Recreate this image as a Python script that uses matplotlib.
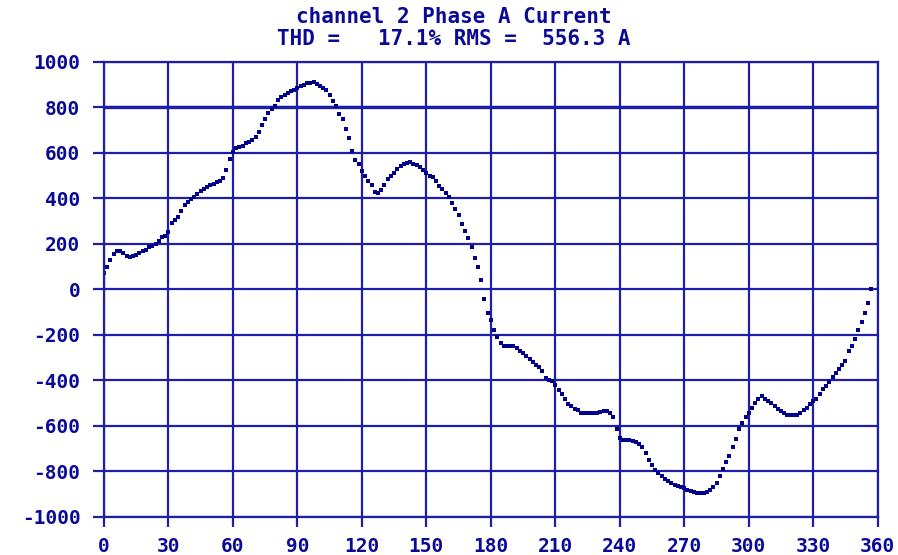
import numpy as np
import matplotlib
matplotlib.use("Agg")
import matplotlib.pyplot as plt

plt.rcParams["axes.unicode_minus"] = False

# waveform samples, one every 1.5 degrees starting at 0
current = [
    70, 100, 130, 155, 170, 170, 158, 148, 141, 146,
    153, 161, 169, 174, 184, 192, 200, 212, 228, 236,
    253, 290, 303, 318, 345, 370, 386, 398, 407, 417,
    432, 442, 450, 457, 464, 470, 476, 490, 525, 575,
    605, 620, 627, 632, 642, 649, 658, 670, 690, 724,
    747, 774, 792, 807, 831, 846, 854, 862, 870, 875,
    884, 893, 900, 906, 908, 913, 904, 895, 887, 876,
    853, 830, 805, 772, 749, 705, 663, 606, 568, 552,
    520, 498, 478, 457, 429, 425, 437, 459, 486, 498,
    510, 529, 542, 550, 554, 558, 551, 545, 537, 523,
    510, 500, 494, 474, 455, 441, 422, 405, 380, 352,
    325, 288, 255, 226, 186, 139, 96, 41, -41, -102,
    -134, -178, -210, -238, -247, -247, -247, -251, -258, -271,
    -281, -291, -306, -320, -332, -343, -358, -388, -400, -405,
    -421, -442, -460, -481, -502, -515, -524, -532, -544, -545,
    -545, -545, -545, -544, -540, -537, -537, -545, -562, -612,
    -655, -662, -662, -663, -668, -673, -678, -695, -721, -751,
    -773, -793, -809, -822, -834, -843, -851, -858, -865, -869,
    -875, -882, -888, -893, -896, -897, -894, -889, -880, -867,
    -850, -821, -791, -760, -733, -692, -656, -614, -587, -563,
    -542, -520, -499, -483, -469, -480, -490, -499, -511, -524,
    -534, -542, -553, -553, -553, -552, -543, -532, -520, -506,
    -493, -480, -460, -438, -427, -406, -387, -369, -351, -331,
    -314, -273, -247, -218, -178, -143, -105, -60, 3,
]
step_deg = 1.5
x_ticks = list(range(0, 361, 30))
y_ticks = list(range(-1000, 1001, 200))
ref_level = 800

title_1 = "channel 2 Phase A Current"
title_2 = "THD =   17.1% RMS =  556.3 A"

grid_col = "#1e1ea8"
dot_col = "#00008c"
txt_col = "#0a0a96"

angle = np.arange(len(current)) * step_deg

fig = plt.figure(figsize=(8.98, 5.55), dpi=100)
ax = fig.add_axes([0.1158, 0.0688, 0.8616, 0.8198])

ax.plot(angle, current, linestyle="none", marker="s", markersize=2.4,
        color=dot_col, markeredgewidth=0)
ax.axhline(ref_level, color=grid_col, lw=2.4, zorder=1)

ax.set_xlim(0, 360)
ax.set_ylim(-1000, 1000)
ax.set_xticks(x_ticks)
ax.set_yticks(y_ticks)
ax.grid(True, color=grid_col, lw=1.6)
ax.set_axisbelow(True)
for s in ax.spines.values():
    s.set_color(grid_col)
    s.set_linewidth(1.6)

ax.tick_params(axis="x", direction="out", length=7.5, width=1.6, color=grid_col, pad=7)
ax.tick_params(axis="y", direction="out", length=8, width=1.6, color=grid_col, pad=9)
for lab in ax.get_xticklabels() + ax.get_yticklabels():
    lab.set_fontfamily("DejaVu Sans Mono")
    lab.set_fontweight("bold")
    lab.set_fontsize(14)
    lab.set_color(txt_col)

fig.text(0.505, 0.970, title_1, ha="center", va="center", family="DejaVu Sans Mono",
         weight="bold", fontsize=15, color=txt_col)
fig.text(0.505, 0.930, title_2, ha="center", va="center", family="DejaVu Sans Mono",
         weight="bold", fontsize=15, color=txt_col)

fig.savefig("out.png", dpi=100, facecolor="white")
